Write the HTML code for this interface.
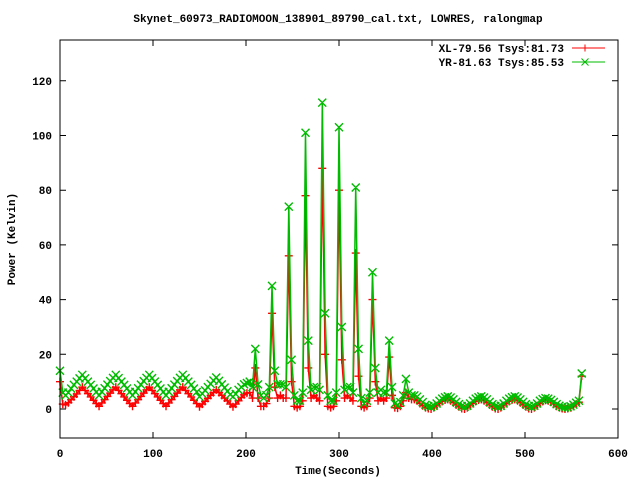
<!DOCTYPE html>
<html><head><meta charset="utf-8"><style>
body{margin:0;background:#fff}
svg{display:block;font-family:"Liberation Mono",monospace;font-weight:bold;font-size:11px}
</style></head><body>
<svg id="chart" width="640" height="480" viewBox="0 0 640 480" xmlns="http://www.w3.org/2000/svg">
<text x="338" y="22" text-anchor="middle">Skynet_60973_RADIOMOON_138901_89790_cal.txt, LOWRES, ralongmap</text>
<text transform="translate(15,239) rotate(-90)" text-anchor="middle">Power (Kelvin)</text>
<text x="338" y="474" text-anchor="middle">Time(Seconds)</text>
<g id="axes"></g>
<g id="series"></g>
<rect x="60" y="40" width="558" height="398" fill="none" stroke="#000" stroke-width="1"/>
<g>
<text x="564" y="52" text-anchor="end">XL-79.56 Tsys:81.73</text>
<line x1="572" y1="48" x2="605" y2="48" stroke="#f00"/>
<path d="M585 44.5V51.5M581.5 48H588.5" stroke="#f00"/>
<text x="564" y="66" text-anchor="end">YR-81.63 Tsys:85.53</text>
<line x1="572" y1="62" x2="605" y2="62" stroke="#0b0"/>
<path d="M581.5 58.5L588.5 65.5M588.5 58.5L581.5 65.5" stroke="#0b0"/>
</g>
</svg>
<script>
const stepSeconds = 3;
const xTicks = [0,100,200,300,400,500,600];
const yTicks = [0,20,40,60,80,100,120];
const xlValues = [10,1.8,1.5,2.3,3.4,4.5,5.5,6.8,8,6.8,5.6,4.4,3.2,2,
1,2.2,3.4,4.6,5.8,7,8,6.8,5.6,4.4,3.2,2,
1,2.2,3.4,4.6,5.8,7,8,6.8,5.6,4.4,3.2,2,
1,2.2,3.4,4.6,5.8,7,8,6.8,5.6,4.4,3.2,2,
0.8,1.8,2.8,3.9,5,6,7,6,5,4,3,1.8,
0.8,1.8,3,4.2,5.2,5.8,6,4,
15,4,1,1,2,4,35,8,4,5,4,4,56,10,1,0.5,1,3,78,15,4,5,4,3,88,20,1,0.5,1,3,80,18,4,5,4,3,57,12,1,0.5,1,4,40,10,3,4,3,4,19,5,0.5,0.3,1,3,6,4,3.5,3.5,3,2,1.2,0.5,0.2,0,
0.5,1.2,2,2.8,3.3,3.5,3,2.3,1.5,0.8,0.2,0,
0.5,1.2,2,2.8,3.3,3.5,3,2.3,1.5,0.8,0.2,0,
0.5,1.2,2,2.8,3.3,3.5,3,2.3,1.5,0.8,0.2,0,
0.5,1.2,2,2.8,3.2,3,2.5,1.8,1,0.5,0.2,0,
0.2,0.5,1,1.8,2.5,12];
const yrValues = [14,6,5,6,7.5,8.8,10,11.2,12.5,11.2,10,8.8,7.5,6.2,
5,6.3,7.6,8.9,10.2,11.4,12.5,11.3,10,8.8,7.5,6.2,
5,6.3,7.6,8.9,10.2,11.4,12.5,11.3,10,8.8,7.5,6.2,
5,6.3,7.6,8.9,10.2,11.4,12.5,11.3,10,8.8,7.5,6.2,
4.5,5.6,6.8,8,9.2,10.4,11.5,10.3,9,7.8,6.5,5.3,
4.5,5.5,7,8,9,9.5,10,8,
22,9,5,4,5,8,45,14,9,9,9,8,74,18,5,3,3,6,101,25,7,8,8,7,112,35,5,3,3,6,103,30,7,8,8,6,81,22,4,2,3,6,50,15,6,7,6,6,25,8,2,1.5,2.5,5,11,6,5,5,4.5,3.5,2.5,1.5,1,0.8,
1.2,2,3,3.8,4.3,4.6,4.2,3.5,2.6,1.8,1.1,0.8,
1.2,2,3,3.8,4.3,4.6,4.2,3.5,2.6,1.8,1.1,0.8,
1.2,2,3,3.8,4.3,4.6,4.2,3.5,2.6,1.8,1.1,0.8,
1.2,2,3,3.6,4,3.8,3.3,2.6,1.8,1.2,0.8,0.6,
0.6,1,1.6,2.3,3,13];

const NS='http://www.w3.org/2000/svg';
function xScale(t){return 60 + t*0.93;}
function yScale(v){return 409 - v*2.735;}
const axes=document.getElementById('axes');
const series=document.getElementById('series');
function mk(tag,attrs,parent){const e=document.createElementNS(NS,tag);for(const k in attrs)e.setAttribute(k,attrs[k]);parent.appendChild(e);return e;}

xTicks.forEach(t=>{
  const x=xScale(t);
  const tk=mk('path',{d:`M${x} 438V432M${x} 40V46`,stroke:'#000'},axes);
  
  
  const lb=mk('text',{x:x,y:457,'text-anchor':'middle'},axes);
  lb.textContent=t;
  
  
});
yTicks.forEach(v=>{
  const y=yScale(v);
  const tk=mk('path',{d:`M60 ${y}H66M618 ${y}H612`,stroke:'#000'},axes);
  
  
  const lb=mk('text',{x:52,y:y+4,'text-anchor':'end'},axes);
  lb.textContent=v;
  
  
});

function drawSeries(vals,color,kind,name){
  const g=mk('g',{},series);
  
  
  let d='';
  vals.forEach((v,i)=>{const x=xScale(i*stepSeconds),y=yScale(v);d+=(i?'L':'M')+x.toFixed(1)+' '+y.toFixed(1);});
  const line=mk('path',{d:d,fill:'none',stroke:color,'stroke-width':1.5,'stroke-linejoin':'round'},g);
  
  
  let m='';
  vals.forEach((v,i)=>{const x=xScale(i*stepSeconds),y=yScale(v);
    if(kind==='plus')m+=`M${x} ${y-4}V${y+4}M${x-4} ${y}H${x+4}`;
    else m+=`M${x-4} ${y-4}L${x+4} ${y+4}M${x+4} ${y-4}L${x-4} ${y+4}`;});
  const mp=mk('path',{d:m,fill:'none',stroke:color,'stroke-width':1.4},g);
  
  
}
drawSeries(xlValues,'#f00','plus','series-xl');
drawSeries(yrValues,'#0b0','x','series-yr');
</script>
</body></html>
